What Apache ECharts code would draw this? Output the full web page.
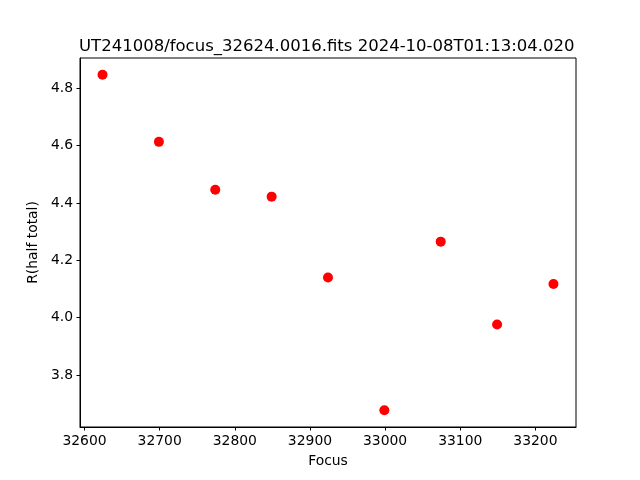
<!DOCTYPE html>
<html><head><meta charset="utf-8">
<script src="https://cdn.jsdelivr.net/npm/echarts@6/dist/echarts.min.js"></script>
<style>html,body{margin:0;padding:0;background:#fff}#c{width:640px;height:480px}</style>
</head><body><div id="c"></div>
<script>
const focusValues = [32624, 32699, 32774, 32849, 32924, 32999, 33074, 33149, 33224];
const radiusValues = [4.847, 4.613, 4.446, 4.422, 4.140, 3.677, 4.265, 3.976, 4.117];
const xTicks = [32600, 32700, 32800, 32900, 33000, 33100, 33200];
const yTicks = [3.8, 4.0, 4.2, 4.4, 4.6, 4.8];
const titleText = 'UT241008/focus_32624.0016.fits 2024-10-08T01:13:04.020';

const xMinD = Math.min(...focusValues), xMaxD = Math.max(...focusValues);
const yMinD = Math.min(...radiusValues), yMaxD = Math.max(...radiusValues);
const xPad = (xMaxD - xMinD) * 0.05, yPad = (yMaxD - yMinD) * 0.05;

const font = 'DejaVu Sans';
const chart = echarts.init(document.getElementById('c'), null, {renderer: 'canvas'});
chart.setOption({
  animation: false,
  backgroundColor: '#ffffff',
  title: {
    text: titleText, left: 74, top: 33,
    textStyle: {fontFamily: font, fontSize: 16.5, fontWeight: 'normal', color: '#000'}
  },
  grid: {left: 80, right: 64, top: 58, bottom: 53, show: true, borderColor: '#000', borderWidth: 1, backgroundColor: 'transparent', containLabel: false},
  xAxis: {
    type: 'value', min: xMinD - xPad, max: xMaxD + xPad,
    name: 'Focus', nameLocation: 'middle', nameGap: 27,
    nameTextStyle: {fontFamily: font, fontSize: 13.9, color: '#000'},
    axisLine: {show: true, onZero: false, lineStyle: {color: '#000', width: 1}},
    axisTick: {show: true, inside: false, length: 3.5, customValues: xTicks, lineStyle: {color: '#000', width: 1}},
    axisLabel: {customValues: xTicks, margin: 7, fontFamily: font, fontSize: 13.9, color: '#000', formatter: v => String(v)},
    splitLine: {show: false}
  },
  yAxis: {
    type: 'value', min: yMinD - yPad, max: yMaxD + yPad,
    name: 'R(half total)', nameLocation: 'middle', nameGap: 40,
    nameTextStyle: {fontFamily: font, fontSize: 13.9, color: '#000'},
    axisLine: {show: true, onZero: false, lineStyle: {color: '#000', width: 1}},
    axisTick: {show: true, inside: false, length: 3.5, customValues: yTicks, lineStyle: {color: '#000', width: 1}},
    axisLabel: {customValues: yTicks, margin: 7, fontFamily: font, fontSize: 13.9, color: '#000', formatter: v => v.toFixed(1)},
    splitLine: {show: false}
  },
  series: [{
    type: 'scatter',
    data: focusValues.map((x, i) => [x, radiusValues[i]]),
    symbol: 'circle', symbolSize: 10,
    itemStyle: {color: '#ff0000', opacity: 1}
  }]
});
</script></body></html>
